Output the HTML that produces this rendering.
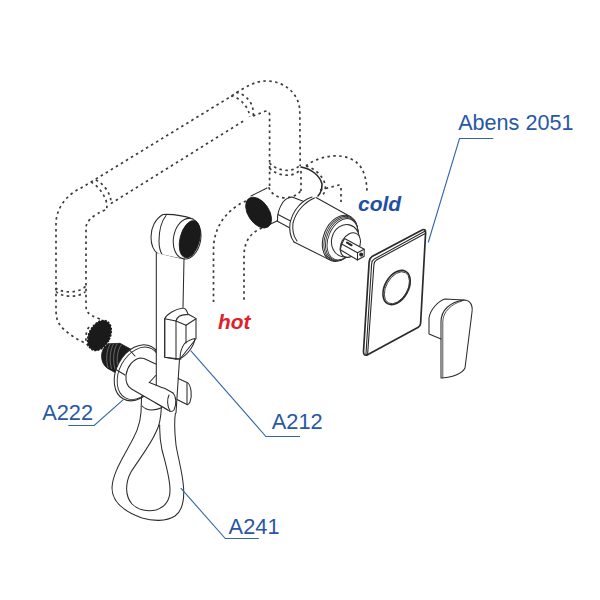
<!DOCTYPE html>
<html><head><meta charset="utf-8"><title>Abens 2051</title>
<style>
html,body{margin:0;padding:0;background:#fff;width:600px;height:600px;overflow:hidden}
svg{display:block}
.t{font-family:"Liberation Sans",sans-serif}
</style></head><body>
<svg width="600" height="600" viewBox="0 0 600 600">
<rect width="600" height="600" fill="#fff"/>
<!-- dashed pipes -->
<g fill="none" stroke="#3c3c3c" stroke-width="1.7" stroke-dasharray="2.5 3.4" id="dash">
  <!-- long hot loop outer -->
  <path d="M89 345 C78 340 66 333 60 325 C57 321 56 316 56 310 L56 224 C56 207 68 194 80 188.7 L232 95.8 C246 86 256 81 266 81 C286 81 299.8 95 299.8 112 L300.2 166 M301 171 L301 191"/>
  <!-- inner -->
  <path d="M100 319 C94 317 90 315 88 312.5 C86.5 311 86 309 86 305 L86 228 C86 221 93 215 106.7 209.2"/>
  <path d="M110.8 203.6 L245 120"/>
  <path d="M253 116 L265 111.3 C268 110.5 269.6 112 269.6 115 L269.6 187"/>
  <!-- cap ring -->
  <path d="M89 327 C85 333 85 341 88 346"/>
  <!-- collars -->
  <path d="M91 182 C98 186 104 194 106.2 201 C107 205 107 207 106.7 209.2"/>
  <path d="M95.8 180 C102 183 107 189 109.5 195 C111 199 111 201.5 110.8 203.6"/>
  <path d="M231 96 C238 97 244 103 247 108 C249 112 249.6 114.5 249.6 117"/>
  <path d="M236 92.5 C243 93.5 248 98 250.8 103 C253 107 253.5 111 253.3 116.7"/>
  <path d="M269.6 163 C275 170 292 174 299.5 165.5"/>
  <path d="M269.6 168 C275 175 292 179 300 170"/>
  <path d="M55.5 288 C62 293 78 294 86 286"/>
  <path d="M56 291.5 C62 297.5 79 298 85.5 291.5"/>
  <path d="M268.8 187.3 C271 194 277 197.5 284 197.8 C292 198 298 195 301 190.3"/>
  <path d="M306 166 C316 169 324 177 325.3 186 C325.5 190 324.5 193 323 194.5"/>
  <!-- hot supply -->
  <path d="M246 201 C232 207 213.5 222 213.5 250 L213.5 302"/>
  <path d="M262 228 C252 232 244 240 244 256 L244 302"/>
  <!-- cold -->
  <path d="M306 166 C315 158 340 150 356 162 C364 168 367 180 367 194"/>
  <path d="M320 190 L339 185 C340 185 341 186 341 188 L341 202"/>
</g>

<!-- solid line drawing -->
<g fill="none" stroke="#2b2b2b" stroke-width="1.05" stroke-linejoin="round" stroke-linecap="round">
  <!-- hot inlet connector lines -->
  <path d="M251 196 L267 188"/>
  <path d="M264 227 L277 221"/>
  <!-- small connector -->
  <path d="M277.5 221 C277 214 279 208 283 202 C285 199.5 288 197.5 292 197 L303.2 201.3"/>
  <path d="M278 214.5 L290.5 221"/>
  <path d="M277 221 L289 227.5"/>
  <!-- cold front edge -->
  <path d="M301 167 C312 169 320 176 322 184 C322 189 321 193 318 196" stroke-width="1.6"/>
  <!-- main valve body -->
  <path d="M312 197 C302 200 293 210 290 223 C289 231 291 238 294 242"/>
  <path d="M314.5 198 C305 202 296 211 293 223 C292 231 294 237 297 241"/>
  <path d="M316 197.5 L351 217"/>
  <path d="M294 242 L329.2 259.6"/>
  <!-- front rings -->
  <g fill="#fff">
  <ellipse cx="340.1" cy="238.3" rx="16.5" ry="24" transform="rotate(22.5 340.1 238.3)"/>
  <ellipse cx="340.9" cy="238.6" rx="15.7" ry="23.2" transform="rotate(22.5 340.9 238.6)" stroke-width="0.9"/>
  <ellipse cx="341.7" cy="238.9" rx="14.9" ry="22.4" transform="rotate(22.5 341.7 238.9)" stroke-width="0.9"/>
  <ellipse cx="342.5" cy="239.2" rx="14.1" ry="21.6" transform="rotate(22.5 342.5 239.2)" stroke-width="0.9"/>
  <ellipse cx="345.5" cy="240.7" rx="13.9" ry="16.3" transform="rotate(14 345.5 240.7)"/>
  <ellipse cx="350.3" cy="245.1" rx="9.2" ry="13" transform="rotate(28 350.3 245.1)"/>
  </g>
  <!-- stem -->
  <path d="M344.6 238.5 L364.2 249.3 L364.2 256.3 L357.5 260 L340.3 249.8 L341.7 244 Z" fill="#fff"/>
  <path d="M341.7 244 L357.5 252.8 L364.2 249.3 M357.5 252.8 L357.5 260"/>
  <path d="M347 242.6 L351.5 245.2" stroke-width="2.2"/>
  <circle cx="361.2" cy="254.6" r="1.5" fill="#222"/>

  <!-- cover plate -->
  <path d="M372 256.6 L421.6 230.2 Q425.8 228 425.6 232.8 L420.6 323.5 Q420.4 326 418.3 327.2 L368 354.6 Q363.4 356.6 363.5 351.5 L369.1 262.5 Q369.3 258.3 372 256.6 Z" stroke-width="1.7"/>
  <path d="M366 354 L371.6 264 Q371.8 260.5 374.3 259 L424.8 231.2" stroke-width="1.1"/>
  <path d="M367.6 354.4 L373.9 265 Q374.1 261.6 376.5 260 L425.2 233.4" stroke-width="1.1"/>
  <ellipse cx="396.6" cy="287.5" rx="11.7" ry="18.5" transform="rotate(29.5 396.6 287.5)" stroke-width="1.6"/>
  <ellipse cx="396.9" cy="287.8" rx="10.6" ry="17.4" transform="rotate(29.5 396.9 287.8)" stroke-width="0.8"/>

  <!-- handle -->
  <path d="M441 339 L429 334 L429 318 C430 310 438 301 445 299 L464 300"/>
  <path d="M441 378 L441 322 C441 310 450 302 464 300 C470 300 473 305 472 312 L465 368 C462 374 452 377 442 378 Z"/>
  <path d="M442.8 377.5 L442.8 322 C442.8 312 451 304 462 301" stroke-width="0.8"/>

  <!-- shower head -->
  <path d="M163 214.5 C155 219 151 228 151 237 C151 245 154 251 158 254"/>
  <path d="M163 214.5 C172 214 183 215.5 193 219"/>
  <path d="M158 254 L184 259.5"/>
  <path d="M166 215.5 C161 222 159 232 159 241 C159 247 160 251 162 254.5"/>
  <ellipse cx="187.1" cy="238.7" rx="13.6" ry="20.5" transform="rotate(10.3 187.1 238.7)" fill="#fff"/>
  <!-- thread nipple -->
  <path d="M108.6 343.8 L120 343.3 L136 352 L125 378 L107.4 368.3 C103 365 101.3 360 101.6 355 C102 350 104.5 346 108.6 343.8 Z" fill="#1c1c1c" stroke="#1c1c1c" stroke-width="0.8"/>
  <path d="M110 344.5 C106.5 350 105.5 360 108 367.5 M113.5 344 C110 350 109 360 111.5 368.5 M117 344 C113.5 350 112.5 360 115 369.5 M121 345 C117 351 116 361 118.5 371" stroke="#999" stroke-width="0.6"/>
  <!-- flange -->
  <ellipse cx="137.4" cy="372.8" rx="21" ry="29.7" transform="rotate(28 137.4 372.8)" fill="#fff"/>
  <ellipse cx="138.5" cy="373.3" rx="19.1" ry="27.9" transform="rotate(28 138.5 373.3)" stroke-width="0.9"/>
  <path d="M129.5 350 L135 356 M115 369 L125 375"/>
  <!-- hose -->
  <path fill="#fff" stroke="none" fill-rule="evenodd" d="M141.6 396 L141 412.5 C140 425 136.5 433 128 448 C121 461 112.3 475 112 488 C112 500 120 510 142 518 C152 521 166 522 175 516 C182 511 184.5 500 183.5 487 C182.5 472 178 458 176 445 C174.5 432 174.3 420 175.5 412.5 L161.4 407 L142 406 Z M159.7 425 C160 432 160 440 156 432 C151 444 140 458 131 472 C125 483 125 496 132 504 C138 510 148 512 156 510 C165 507 170 500 170 490 C170 478 166 465 162 450 C160 440 159.5 432 159.7 425 Z"/>
  <path d="M141.6 396 L141 412.5 C140 425 136.5 433 128 448 C121 461 112.3 475 112 488 C112 500 120 510 142 518 C152 521 166 522 175 516 C182 511 184.5 500 183.5 487 C182.5 472 178 458 176 445 C174.5 432 174.3 420 175.5 412.5"/>
  <path d="M161.4 407 C161 416 160 425 156 432 C151 444 140 458 131 472 C125 483 125 496 132 504 C138 510 148 512 156 510 C165 507 170 500 170 490 C170 478 166 465 162 450 C160 440 159.5 432 159.7 425"/>
  <!-- valve body -->
  <path d="M156.3 364.3 L144 358.5 L140 358 C133 359.5 127.5 366 126 375 C125.5 382 128 387 131.5 389 L168 410 L176 413 L176 364 Z" fill="#fff" stroke="none"/>
  <path d="M156.3 364.3 L144 358.5 L140 358 C133 359.5 127.5 366 126 375 C125.5 382 128 387 131.5 389 L168 410"/>
  <!-- hose nut -->
  <path d="M142.2 406 C145 409 148 410 151.5 410 C155 410 158 409.5 161.4 407.8"/>
  <!-- right lever part (behind handle) -->
  <path d="M176 377.5 L188 383 C191 386 192.5 396 190 402 C189 404 188 405 187 404.5 L176 399 Z" fill="#fff"/>
  <path d="M187 383.5 L187 404"/>
  <!-- handle body -->
  <path d="M156.3 253 L184 259.5 L176 413 L168 410 L156.3 403 Z" fill="#fff" stroke="none"/>
  <path d="M156.3 253 L156.3 386"/>
  <path d="M184 259 L183 307"/>
  <path d="M179.5 359 L176 413"/>
  <!-- holder block -->
  <path d="M164.7 318.7 C167 314 175 309 183 308 C186 308 187 311 188 314 C191 316 194 317 196 318.7 L196 338.7 L180 359 L164.7 357.3 Z" fill="#fff"/>
  <path d="M164.7 318.7 L164.7 357.3 L176 359.3 L181 359"/>
  <path d="M164.7 318.7 L176 321 L186 325.3 L196 318.7"/>
  <path d="M176 321 L176 359.3"/>
  <path d="M176 321 C177 317 180 314 188 314.7"/>
  <path d="M186 325.3 L186 343"/>
  <path d="M180 358.5 C186 356 194 347 195 338.5 C191 339 186 342 184.7 343.3 C182 347 180 352 180 358.5 Z"/>
  <!-- lever (front) -->
  <path d="M149.3 382.5 L155.7 375.5"/>
  <path d="M156 385.3 L165 388.5 L173 393 C176 396 177 404 174 410 C172 412 170 412 168 410 L156 403 Z" fill="#fff" stroke="none"/>
  <path d="M149.3 382.5 L157 385.5 C160 387 163 388 165 388.5 L173 393"/>
  <path d="M173 393 C176 396 177 404 174 410 C172 412 170 412 168 410 L156 403"/>
  <path d="M169 395 C167 399 167 406 170 411"/>
</g>

<!-- black fills -->
<g fill="#1a1a1a" stroke="#1a1a1a" stroke-width="0.8">
  <ellipse cx="99.5" cy="335.5" rx="10.3" ry="15.8" transform="rotate(27 99.5 335.5)"/>
  <ellipse cx="99.5" cy="335.5" rx="10.6" ry="16.1" transform="rotate(27 99.5 335.5)" fill="none" stroke-width="1.4" stroke-dasharray="1.8 1.6"/>
  <ellipse cx="258.6" cy="212.6" rx="10.5" ry="17.2" transform="rotate(-34 258.6 212.6)"/>
  <ellipse cx="189.8" cy="239.2" rx="9.8" ry="19" transform="rotate(14.2 189.8 239.2)"/>
</g>

<!-- leaders -->
<g fill="none" stroke="#3465ac" stroke-width="1.1">
  <path d="M428.2 242.5 L459.5 138.5 L493.3 138.5"/>
  <path d="M68.3 425.5 L94.2 425.5 L123.3 399.7"/>
  <path d="M190.7 350.7 L265.9 436.5 L300 436.5"/>
  <path d="M180.8 488.2 L225.3 538.5 L258.8 538.5"/>
</g>

<!-- labels -->
<g class="t" fill="#2857a4" font-size="21.6">
  <text transform="translate(458.2 130) scale(1 1.04)">Abens 2051</text>
  <text transform="translate(42.2 420) scale(1.01 1.04)">A222</text>
  <text transform="translate(271.8 429) scale(1.01 1.04)">A212</text>
  <text transform="translate(228.6 534) scale(1.01 1.04)">A241</text>
</g>
<text class="t" x="358" y="210.6" font-size="21" font-weight="bold" font-style="italic" fill="#1f50a3">cold</text>
<text class="t" x="218" y="328.7" font-size="20.8" font-weight="bold" font-style="italic" fill="#e0202a">hot</text>
</svg>
</body></html>
